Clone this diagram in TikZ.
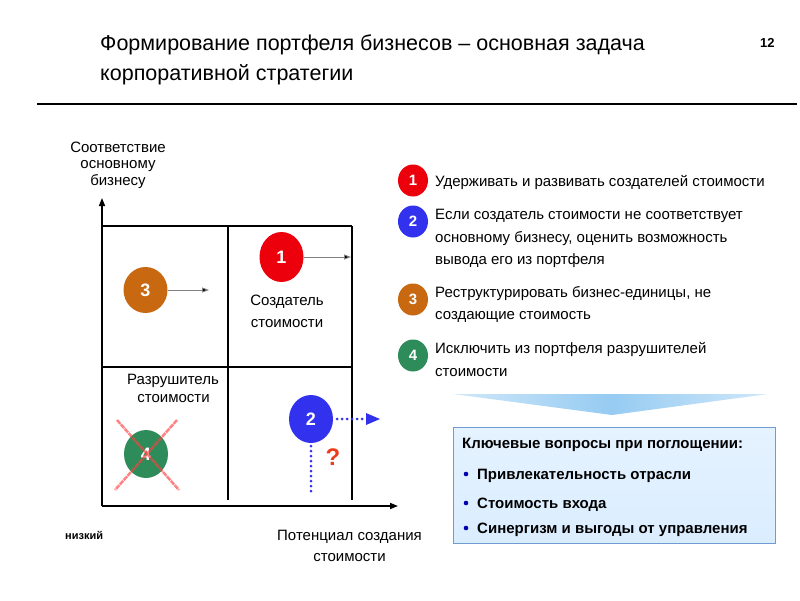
\documentclass[tikz,border=0pt]{standalone}
\usepackage{fontspec}
\setmainfont{Liberation Sans}
\usetikzlibrary{arrows.meta,shapes.geometric}
\definecolor{cred}{RGB}{236,0,12}
\definecolor{cblue}{RGB}{50,50,238}
\definecolor{corange}{RGB}{200,104,16}
\definecolor{cgreen}{RGB}{46,139,90}
\definecolor{boxfill}{RGB}{218,237,255}
\definecolor{boxline}{RGB}{110,155,210}
\definecolor{arrblue}{RGB}{150,203,242}
\begin{document}
\begin{tikzpicture}[x=1pt,y=-1pt,
  ball/.style={ellipse, minimum width=44, minimum height=48, inner sep=0, text=white, font=\bfseries\fontsize{18}{18}\selectfont},
  sball/.style={ellipse, minimum width=30, minimum height=32, inner sep=0, text=white, font=\bfseries\fontsize{15}{15}\selectfont},
  txt/.style={anchor=base west, inner sep=0, font=\fontsize{15}{15}\selectfont},
  lbl/.style={anchor=base, inner sep=0, font=\fontsize{15}{15}\selectfont},
  btxt/.style={anchor=base west, inner sep=0, font=\bfseries\fontsize{15}{15}\selectfont},
  grid/.style={line width=1.5pt},
  axis/.style={line width=1.5pt, -{Triangle[length=8pt,width=6pt]}},
  sarr/.style={draw=gray, line width=0.9pt, -{Triangle[length=7pt,width=5pt,fill=black]}},
  dotl/.style={draw=cblue, line width=3pt, line cap=round, dash pattern=on 0pt off 5pt}
]
\useasboundingbox (0,0) rectangle (800,600);
% title
\node[txt, font=\fontsize{21.5}{21.5}\selectfont] (t1) at (100,50) {Формирование портфеля бизнесов – основная задача};
\node[txt, font=\fontsize{21.5}{21.5}\selectfont] (t2) at (100,80) {корпоративной стратегии};
\node[btxt, font=\bfseries\fontsize{13}{13}\selectfont] (pg) at (760,47) {12};
\coordinate (rl) at (37,104);
\coordinate (rr) at (797,104);
\draw[line width=2pt] (rl) -- (rr);
% axes
\coordinate (O) at (102,506);
\coordinate (Ytop) at (102,198);
\coordinate (Xend) at (398,506);
\draw[axis] (O) -- (Ytop);
\draw[axis] (O) -- (Xend);
\node[lbl] (y1) at (118,152) {Соответствие};
\node[lbl] (y2) at (118,168.5) {основному};
\node[lbl] (y3) at (118,185) {бизнесу};
\node[anchor=base west, inner sep=0, font=\bfseries\fontsize{11}{11}\selectfont] (low) at (65,539) {низкий};
\node[lbl] (xl1) at (349.5,540) {Потенциал создания};
\node[lbl] (xl2) at (349.5,561) {стоимости};
% grid
\coordinate (g1) at (102,226); \coordinate (g2) at (352,226);
\coordinate (g3) at (102,367); \coordinate (g4) at (352,367);
\coordinate (g5) at (228,226); \coordinate (g6) at (228,500);
\coordinate (g7) at (352,226); \coordinate (g8) at (352,500);
\draw[grid] (g1) -- (g2);
\draw[grid] (g3) -- (g4);
\draw[grid] (g5) -- (g6);
\draw[grid] (g7) -- (g8);
% quadrant labels
\node[lbl] (cr1) at (287,305) {Создатель};
\node[lbl] (cr2) at (287,327) {стоимости};
\node[lbl] (ds1) at (173,384) {Разрушитель};
\node[lbl] (ds2) at (173.5,402) {стоимости};
% balls in matrix
\node[ball, fill=corange, minimum height=46] (b3) at (145.5,290) {3};
\coordinate (b3e) at (209,290);
\draw[sarr] (b3) -- (b3e);
\node[ball, fill=cred, minimum height=50] (b1) at (281.5,257) {1};
\coordinate (b1e) at (351,257);
\draw[sarr] (b1) -- (b1e);
\node[ball, fill=cgreen] (b4) at (146,454) {4};
\coordinate (x1) at (117,420); \coordinate (x2) at (179,490);
\coordinate (x3) at (177,420); \coordinate (x4) at (115,490);
\draw[red!75, opacity=0.65, line width=2.5pt, dash pattern=on 5pt off 0.8pt] (x1) -- (x2);
\draw[red!75, opacity=0.65, line width=2.5pt, dash pattern=on 5pt off 0.8pt] (x3) -- (x4);
\node[ball, fill=cblue] (b2) at (311,419) {2};
\coordinate (b2r) at (367,419);
\coordinate (b2t) at (380,419);
\coordinate (b2d) at (311,494);
\draw[dotl] (b2.east) ++(4,0) -- (b2r);
\fill[cblue] (b2t) -- ++(-14,-6) -- ++(0,12) -- cycle;
\draw[dotl] (b2.south) ++(0,3) -- (b2d);
\node[inner sep=0, text={rgb,255:red,235;green,60;blue,30}, font=\bfseries\fontsize{24}{24}\selectfont] (q) at (333,457) {?};
% legend
\node[sball, fill=cred] (l1) at (413,180.5) {1};
\node[sball, fill=cblue] (l2) at (413,221.5) {2};
\node[sball, fill=corange] (l3) at (413,299.5) {3};
\node[sball, fill=cgreen] (l4) at (413,355.5) {4};
\node[txt] (s1) at (435,186) {Удерживать и развивать создателей стоимости};
\node[txt] (s2a) at (435,219) {Если создатель стоимости не соответствует};
\node[txt] (s2b) at (435,242) {основному бизнесу, оценить возможность};
\node[txt] (s2c) at (435,264) {вывода его из портфеля};
\node[txt] (s3a) at (435,297) {Реструктурировать бизнес-единицы, не};
\node[txt] (s3b) at (435,319) {создающие стоимость};
\node[txt] (s4a) at (435,353) {Исключить из портфеля разрушителей};
\node[txt] (s4b) at (435,376) {стоимости};
% big arrow
\coordinate (a1) at (453,394); \coordinate (a2) at (768,394); \coordinate (a3) at (612,415);
\shade[left color=arrblue!45, right color=arrblue!45, middle color=arrblue] (a1) -- (a2) -- (a3) -- cycle;
% box
\node[draw=boxline, top color=boxfill!70, bottom color=boxfill, line width=1pt, minimum width=322, minimum height=116, anchor=north west, inner sep=0] (box) at (453,427) {};
\node[btxt] (k0) at (462,448) {Ключевые вопросы при поглощении:};
\node[btxt] (k1) at (477,479) {Привлекательность отрасли};
\node[btxt] (k2) at (477,508) {Стоимость входа};
\node[btxt] (k3) at (477,533) {Синергизм и выгоды от управления};
\fill[blue!70!black] (466,474) circle (2.3) (466,503) circle (2.3) (466,528) circle (2.3);
\end{tikzpicture}
\end{document}
